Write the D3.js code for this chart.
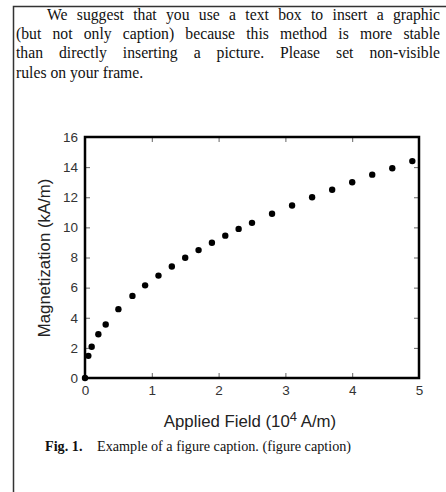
<!DOCTYPE html>
<html><head><meta charset="utf-8">
<script src="https://cdn.jsdelivr.net/npm/d3@7"></script>
<style>html,body{margin:0;padding:0;background:#fff;}svg{display:block;}</style>
</head><body>
<script>
const paragraphLines = [
  "We suggest that you use a text box to insert a graphic",
  "(but not only caption) because this method is more stable",
  "than directly inserting a picture. Please set non-visible",
  "rules on your frame."
];
const fieldValues = [0, 0.05, 0.1, 0.2, 0.31, 0.5, 0.71, 0.9, 1.1, 1.3, 1.5, 1.7, 1.9, 2.1, 2.3, 2.5, 2.8, 3.1, 3.4, 3.7, 4.0, 4.3, 4.6, 4.9];
const magnetValues = [0, 1.47, 2.07, 2.9, 3.55, 4.57, 5.45, 6.15, 6.8, 7.4, 7.98, 8.49, 8.98, 9.45, 9.9, 10.3, 10.9, 11.45, 12.0, 12.5, 13.0, 13.5, 13.93, 14.4];
const xTicks = [0, 1, 2, 3, 4, 5];
const yTicks = [0, 2, 4, 6, 8, 10, 12, 14, 16];

const W = 446, H = 492;
const svg = d3.select("body").append("svg").attr("width", W).attr("height", H);

// frame
svg.append("path").attr("d", `M13.5,${H} L13.5,6.5 L${W},6.5`)
  .attr("fill", "none").attr("stroke", "#333").attr("stroke-width", 1.5);

// paragraph (justified via word-spacing)
const serif = "'Liberation Serif','Times New Roman',serif";
const pl = [
  {x: 47, w: 393, j: true},
  {x: 16, w: 424, j: true},
  {x: 16, w: 424, j: true},
  {x: 16, w: 0, j: false}
];
paragraphLines.forEach((t, i) => {
  const tx = svg.append("text").attr("x", pl[i].x).attr("y", 20 + i * 19.2)
    .attr("font-family", serif).attr("font-size", 15.7).attr("fill", "#111").text(t);
  if (pl[i].j) {
    const nat = tx.node().getComputedTextLength();
    const spaces = (t.match(/ /g) || []).length;
    tx.attr("word-spacing", (pl[i].w - nat) / spaces);
  }
});

// plot
const m = {l: 85, r: 419, t: 137, b: 378};
const x = d3.scaleLinear().domain([0, 5]).range([m.l, m.r]);
const y = d3.scaleLinear().domain([0, 16]).range([m.b, m.t]);
const sans = "'Liberation Sans',Arial,sans-serif";

const g = svg.append("g");
// inside ticks on all sides
g.append("g").attr("transform", `translate(0,${m.b})`)
  .call(d3.axisTop(x).tickValues(xTicks).tickSize(5).tickFormat(""))
  .call(s => s.select(".domain").remove())
  .selectAll("line").attr("stroke", "#666");
g.append("g").attr("transform", `translate(0,${m.t})`)
  .call(d3.axisBottom(x).tickValues(xTicks).tickSize(5).tickFormat(""))
  .call(s => s.select(".domain").remove())
  .selectAll("line").attr("stroke", "#666");
g.append("g").attr("transform", `translate(${m.l},0)`)
  .call(d3.axisRight(y).tickValues(yTicks).tickSize(5).tickFormat(""))
  .call(s => s.select(".domain").remove())
  .selectAll("line").attr("stroke", "#666");
g.append("g").attr("transform", `translate(${m.r},0)`)
  .call(d3.axisLeft(y).tickValues(yTicks).tickSize(5).tickFormat(""))
  .call(s => s.select(".domain").remove())
  .selectAll("line").attr("stroke", "#666");

// tick labels
g.append("g").attr("transform", `translate(0,${m.b})`)
  .call(d3.axisBottom(x).tickValues(xTicks).tickSize(0).tickPadding(7).tickFormat(d3.format("d")))
  .call(s => s.select(".domain").remove())
  .selectAll("text").attr("font-family", sans).attr("font-size", 13.5).attr("fill", "#333");
g.append("g").attr("transform", `translate(${m.l},0)`)
  .call(d3.axisLeft(y).tickValues(yTicks).tickSize(0).tickPadding(7).tickFormat(d3.format("d")))
  .call(s => s.select(".domain").remove())
  .selectAll("text").attr("font-family", sans).attr("font-size", 13.5).attr("fill", "#333");

// box
g.append("rect").attr("x", m.l).attr("y", m.t).attr("width", m.r - m.l).attr("height", m.b - m.t)
  .attr("fill", "none").attr("stroke", "#000").attr("stroke-width", 2.5);

// points
g.selectAll("circle.pt").data(fieldValues.map((f, i) => [f, magnetValues[i]])).join("circle")
  .attr("class", "pt").attr("cx", d => x(d[0])).attr("cy", d => y(d[1])).attr("r", 3.2).attr("fill", "#000");

// axis titles
const xl = svg.append("text").attr("x", 250).attr("y", 427).attr("text-anchor", "middle")
  .attr("font-family", sans).attr("font-size", 16.8).attr("fill", "#222");
xl.append("tspan").text("Applied Field (10");
xl.append("tspan").attr("dy", -6).attr("font-size", 13).text("4");
xl.append("tspan").attr("dy", 6).text(" A/m)");

svg.append("text").attr("transform", `translate(50,258) rotate(-90)`).attr("text-anchor", "middle")
  .attr("font-family", sans).attr("font-size", 16.8).attr("fill", "#222").text("Magnetization (kA/m)");

// caption
svg.append("text").attr("x", 45).attr("y", 451).attr("font-family", serif).attr("font-size", 14.2)
  .attr("font-weight", "bold").attr("fill", "#111").text("Fig. 1.");
svg.append("text").attr("x", 97).attr("y", 451).attr("font-family", serif).attr("font-size", 14.2)
  .attr("fill", "#111").text("Example of a figure caption. (figure caption)");
</script>
</body></html>
